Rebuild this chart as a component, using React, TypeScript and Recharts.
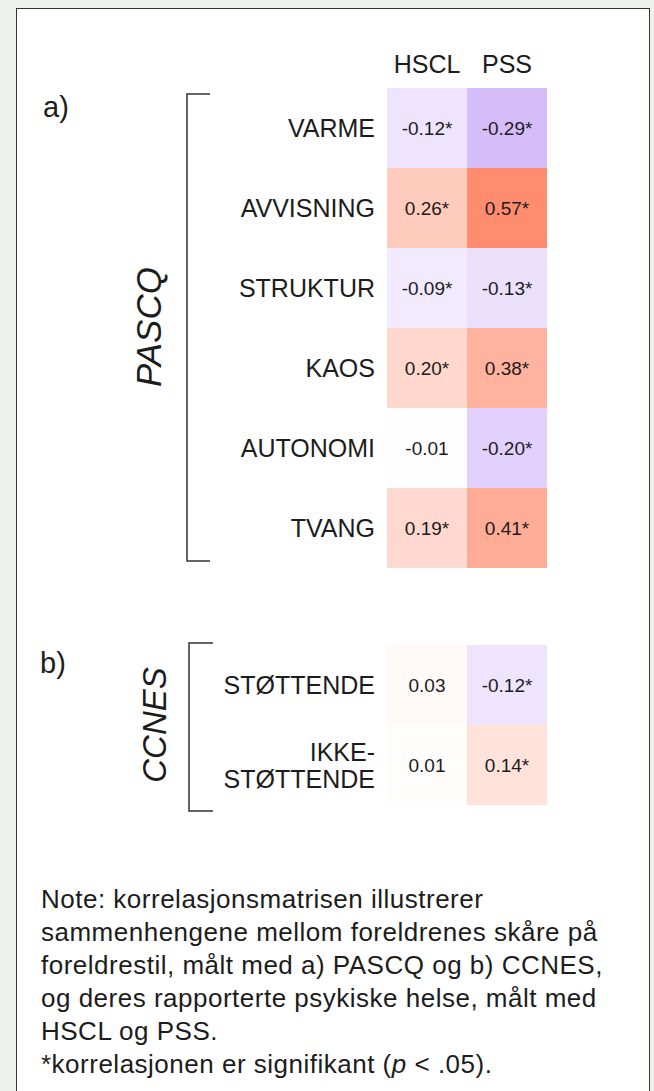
import React from "react";
import { ScatterChart, Scatter, XAxis, YAxis } from "recharts";

// correlation matrix: parenting style (rows) vs. mental health (columns)
const columns = ["HSCL", "PSS"];

const pascqRows = ["VARME", "AVVISNING", "STRUKTUR", "KAOS", "AUTONOMI", "TVANG"];
const pascqHscl = [-0.12, 0.26, -0.09, 0.2, -0.01, 0.19];
const pascqPss = [-0.29, 0.57, -0.13, 0.38, -0.2, 0.41];
const pascqHsclSig = [true, true, true, true, false, true];
const pascqPssSig = [true, true, true, true, true, true];

const ccnesRows = ["STØTTENDE", "IKKE-\nSTØTTENDE"];
const ccnesHscl = [0.03, 0.01];
const ccnesPss = [-0.12, 0.14];
const ccnesHsclSig = [false, false];
const ccnesPssSig = [true, true];

const noteLines = [
  "Note: korrelasjonsmatrisen illustrerer",
  "sammenhengene mellom foreldrenes skåre på",
  "foreldrestil, målt med a) PASCQ og b) CCNES,",
  "og deres rapporterte psykiske helse, målt med",
  "HSCL og PSS.",
];

const FONT = "'Liberation Sans', Arial, Helvetica, sans-serif";
const INK = "#1c1c1c";
const CELL_W = 80;
const CELL_H = 80;

type Entry = { col: string; row: string; value: number; sig: boolean };

function buildRows(
  rows: string[],
  hscl: number[],
  pss: number[],
  hsclSig: boolean[],
  pssSig: boolean[]
): Entry[] {
  return rows.flatMap((row, i) => [
    { col: columns[0], row, value: hscl[i], sig: hsclSig[i] },
    { col: columns[1], row, value: pss[i], sig: pssSig[i] },
  ]);
}

const pascqData = buildRows(pascqRows, pascqHscl, pascqPss, pascqHsclSig, pascqPssSig);
const ccnesData = buildRows(ccnesRows, ccnesHscl, ccnesPss, ccnesHsclSig, ccnesPssSig);

// diverging scale: white -> coral for positive, white -> lavender for negative
const POS = [255, 134, 102];
const NEG = [168, 118, 245];
const MAX_R = 0.6;

function cellColor(v: number) {
  const t = Math.min(Math.abs(v) / MAX_R, 1);
  const end = v >= 0 ? POS : NEG;
  const c = end.map((e) => Math.round(255 - t * (255 - e)));
  return `rgb(${c.join(",")})`;
}

function fmt(v: number) {
  const s = Math.abs(v).toFixed(2);
  return v < 0 ? `-${s}` : s;
}

function HeatCell(props: { cx?: number; cy?: number; payload?: Entry }) {
  const { cx = 0, cy = 0, payload } = props;
  if (!payload) return null;
  return (
    <g>
      <rect
        x={cx - CELL_W / 2}
        y={cy - CELL_H / 2}
        width={CELL_W}
        height={CELL_H}
        fill={cellColor(payload.value)}
      />
      <text
        x={cx}
        y={cy + 7}
        textAnchor="middle"
        fontSize={19}
        fontFamily={FONT}
        fill={INK}
      >
        {fmt(payload.value) + (payload.sig ? "*" : "")}
      </text>
    </g>
  );
}

function RowTick(props: { x?: number; y?: number; payload?: { value: string } }) {
  const { x = 0, y = 0, payload } = props;
  if (!payload) return null;
  const lines = String(payload.value).split("\n");
  const lh = 27;
  const first = y + 9 - ((lines.length - 1) * lh) / 2;
  return (
    <text textAnchor="end" fontSize={25} fontFamily={FONT} fill={INK}>
      {lines.map((l, i) => (
        <tspan key={i} x={x} y={first + i * lh}>
          {l}
        </tspan>
      ))}
    </text>
  );
}

function Matrix({
  data,
  rows,
  height,
  top,
  showHeader,
}: {
  data: Entry[];
  rows: string[];
  height: number;
  top: number;
  showHeader: boolean;
}) {
  const plotH = rows.length * CELL_H;
  const headerH = showHeader ? 30 : 0;
  return (
    <ScatterChart
      width={654}
      height={height}
      margin={{ top: top - headerH, right: 107, bottom: height - top - plotH, left: 137 }}
    >
      <XAxis
        type="category"
        dataKey="col"
        allowDuplicatedCategory={false}
        orientation="top"
        height={30}
        axisLine={false}
        tickLine={false}
        tickSize={0}
        tickMargin={15}
        hide={!showHeader}
        tick={{ fill: INK, fontSize: 25, fontFamily: FONT }}
      />
      <YAxis
        type="category"
        dataKey="row"
        allowDuplicatedCategory={false}
        reversed
        width={250}
        axisLine={false}
        tickLine={false}
        tickSize={0}
        tickMargin={12}
        tick={<RowTick />}
      />
      <Scatter data={data} shape={<HeatCell />} isAnimationActive={false} />
    </ScatterChart>
  );
}

export default function App() {
  return (
    <div
      style={{
        position: "absolute",
        left: 0,
        top: 0,
        width: 654,
        height: 1091,
        overflow: "hidden",
        background: "#eef0ee",
        fontFamily: FONT,
      }}
    >
      <div
        style={{
          position: "absolute",
          left: 16,
          top: 8,
          width: 632,
          height: 1110,
          background: "#fff",
          border: "1.5px solid #333",
        }}
      />
      <div style={{ position: "absolute", left: 0, top: 0 }}>
        <Matrix data={pascqData} rows={pascqRows} height={600} top={88} showHeader />
      </div>
      <div style={{ position: "absolute", left: 0, top: 600 }}>
        <Matrix data={ccnesData} rows={ccnesRows} height={240} top={45} showHeader={false} />
      </div>
      <svg
        width={654}
        height={1091}
        style={{ position: "absolute", left: 0, top: 0, pointerEvents: "none" }}
        fontFamily={FONT}
        fill={INK}
      >
        <text x={43} y={117} fontSize={29}>a)</text>
        <text x={40} y={673} fontSize={29}>b)</text>

        {/* group brackets */}
        <path d="M210,94 H187 V561 H210" fill="none" stroke="#333" strokeWidth={1.5} />
        <path d="M213,643 H189 V811 H213" fill="none" stroke="#333" strokeWidth={1.5} />

        <text
          transform="translate(161,327) rotate(-90)"
          textAnchor="middle"
          fontSize={35}
          fontStyle="italic"
        >
          PASCQ
        </text>
        <text
          transform="translate(166,725) rotate(-90)"
          textAnchor="middle"
          fontSize={33}
          fontStyle="italic"
        >
          CCNES
        </text>

        {noteLines.map((l, i) => (
          <text key={i} x={41} y={908 + i * 33} fontSize={26} letterSpacing={0.5}>
            {l}
          </text>
        ))}
        <text x={41} y={908 + noteLines.length * 33} fontSize={26} letterSpacing={0.5}>
          *korrelasjonen er signifikant (<tspan fontStyle="italic">p</tspan> {"< .05)."}
        </text>
      </svg>
    </div>
  );
}
